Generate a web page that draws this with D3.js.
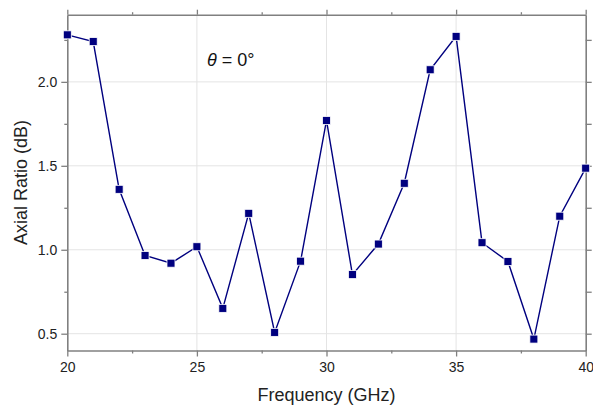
<!DOCTYPE html>
<html>
<head>
<meta charset="utf-8">
<script src="https://cdn.jsdelivr.net/npm/d3@7"></script>
<style>
  html, body { margin: 0; padding: 0; background: #fff; }
  svg { display: block; font-family: "Liberation Sans", Arial, sans-serif; }
</style>
</head>
<body>
<svg id="chart" width="593" height="408"></svg>
<script>
// Measured axial ratio versus frequency at theta = 0°
const frequency = [20, 21, 22, 23, 24, 25, 26, 27, 28, 29, 30, 31, 32, 33, 34, 35, 36, 37, 38, 39, 40];
const axialRatio = [2.28, 2.24, 1.36, 0.966, 0.92, 1.018, 0.651, 1.217, 0.508, 0.932, 1.77, 0.852, 1.034, 1.396, 2.072, 2.271, 1.042, 0.93, 0.468, 1.2, 1.486];

const xMajorTicks = [20, 25, 30, 35, 40];
const xMinorTicks = [22.5, 27.5, 32.5, 37.5];
const yMajorTicks = [0.5, 1.0, 1.5, 2.0];
const yMinorTicks = [0.75, 1.25, 1.75, 2.25];

(function drawChart() {
  const svg = d3.select("#chart");
  const m = { left: 67.3, right: 585.7, top: 14.7, bottom: 350.5 };

  const x = d3.scaleLinear().domain([20, 40]).range([m.left, m.right]);
  const y = d3.scaleLinear().domain([0.4, 2.4]).range([m.bottom, m.top]);

  const axisColor = "#808080";
  const gridColor = "#e4e4e4";
  const lineColor = "#00007f";

  // grid
  const grid = svg.append("g");
  grid.selectAll("line.gx").data(xMajorTicks.slice(1, -1)).join("line")
    .attr("class", "gx")
    .attr("x1", d => x(d)).attr("x2", d => x(d))
    .attr("y1", m.top).attr("y2", m.bottom)
    .attr("stroke", gridColor).attr("stroke-width", 1);
  grid.selectAll("line.gy").data(yMajorTicks).join("line")
    .attr("class", "gy")
    .attr("x1", m.left).attr("x2", m.right)
    .attr("y1", d => y(d)).attr("y2", d => y(d))
    .attr("stroke", gridColor).attr("stroke-width", 1);

  function styleAxis(g) {
    g.selectAll("path.domain").attr("stroke", axisColor).attr("stroke-width", 1.6);
    g.selectAll(".tick line").attr("stroke", axisColor).attr("stroke-width", 1.3);
    g.selectAll(".tick text").attr("fill", "#222").attr("font-size", 14)
      .attr("font-family", "Liberation Sans, Arial, sans-serif");
  }
  function minor(g) { g.select("path.domain").remove(); styleAxis(g); }

  // bottom axis
  svg.append("g").attr("transform", `translate(0,${m.bottom})`)
    .call(d3.axisBottom(x).tickValues(xMajorTicks).tickFormat(d3.format("d")).tickSize(6).tickSizeOuter(0).tickPadding(6))
    .call(styleAxis);
  svg.append("g").attr("transform", `translate(0,${m.bottom})`)
    .call(d3.axisBottom(x).tickValues(xMinorTicks).tickFormat("").tickSize(3).tickSizeOuter(0))
    .call(minor);

  // top axis
  svg.append("g").attr("transform", `translate(0,${m.top})`)
    .call(d3.axisTop(x).tickValues(xMajorTicks).tickFormat("").tickSize(5).tickSizeOuter(0))
    .call(styleAxis);
  svg.append("g").attr("transform", `translate(0,${m.top})`)
    .call(d3.axisTop(x).tickValues(xMinorTicks).tickFormat("").tickSize(2.5).tickSizeOuter(0))
    .call(minor);

  // left axis
  svg.append("g").attr("transform", `translate(${m.left},0)`)
    .call(d3.axisLeft(y).tickValues(yMajorTicks).tickFormat(d3.format(".1f")).tickSize(6).tickSizeOuter(0).tickPadding(4))
    .call(styleAxis);
  svg.append("g").attr("transform", `translate(${m.left},0)`)
    .call(d3.axisLeft(y).tickValues(yMinorTicks).tickFormat("").tickSize(3).tickSizeOuter(0))
    .call(minor);

  // right axis
  svg.append("g").attr("transform", `translate(${m.right},0)`)
    .call(d3.axisRight(y).tickValues(yMajorTicks).tickFormat("").tickSize(6).tickSizeOuter(0))
    .call(styleAxis);
  svg.append("g").attr("transform", `translate(${m.right},0)`)
    .call(d3.axisRight(y).tickValues(yMinorTicks).tickFormat("").tickSize(6).tickSizeOuter(0))
    .call(minor);

  // axis titles
  svg.append("text")
    .attr("x", (m.left + m.right) / 2).attr("y", 401)
    .attr("text-anchor", "middle").attr("font-size", 18).attr("fill", "#222")
    .text("Frequency (GHz)");
  svg.append("text")
    .attr("transform", `translate(27,${(m.top + m.bottom) / 2}) rotate(-90)`)
    .attr("text-anchor", "middle").attr("font-size", 18).attr("fill", "#222")
    .text("Axial Ratio (dB)");

  // series
  const data = frequency.map((f, i) => ({ f, v: axialRatio[i] }));
  svg.append("path").datum(data)
    .attr("fill", "none").attr("stroke", lineColor).attr("stroke-width", 1.4)
    .attr("d", d3.line().x(d => x(d.f)).y(d => y(d.v)));

  const ms = 8;
  svg.append("g").selectAll("rect").data(data).join("rect")
    .attr("x", d => x(d.f) - ms / 2).attr("y", d => y(d.v) - ms / 2)
    .attr("width", ms).attr("height", ms)
    .attr("fill", lineColor).attr("stroke", "#fff").attr("stroke-width", 0.8);

  // annotation
  const ann = svg.append("text").attr("x", 207).attr("y", 66)
    .attr("font-size", 18).attr("fill", "#111");
  ann.append("tspan").attr("font-style", "italic").text("θ");
  ann.append("tspan").text(" = 0°");
})();
</script>
</body>
</html>
